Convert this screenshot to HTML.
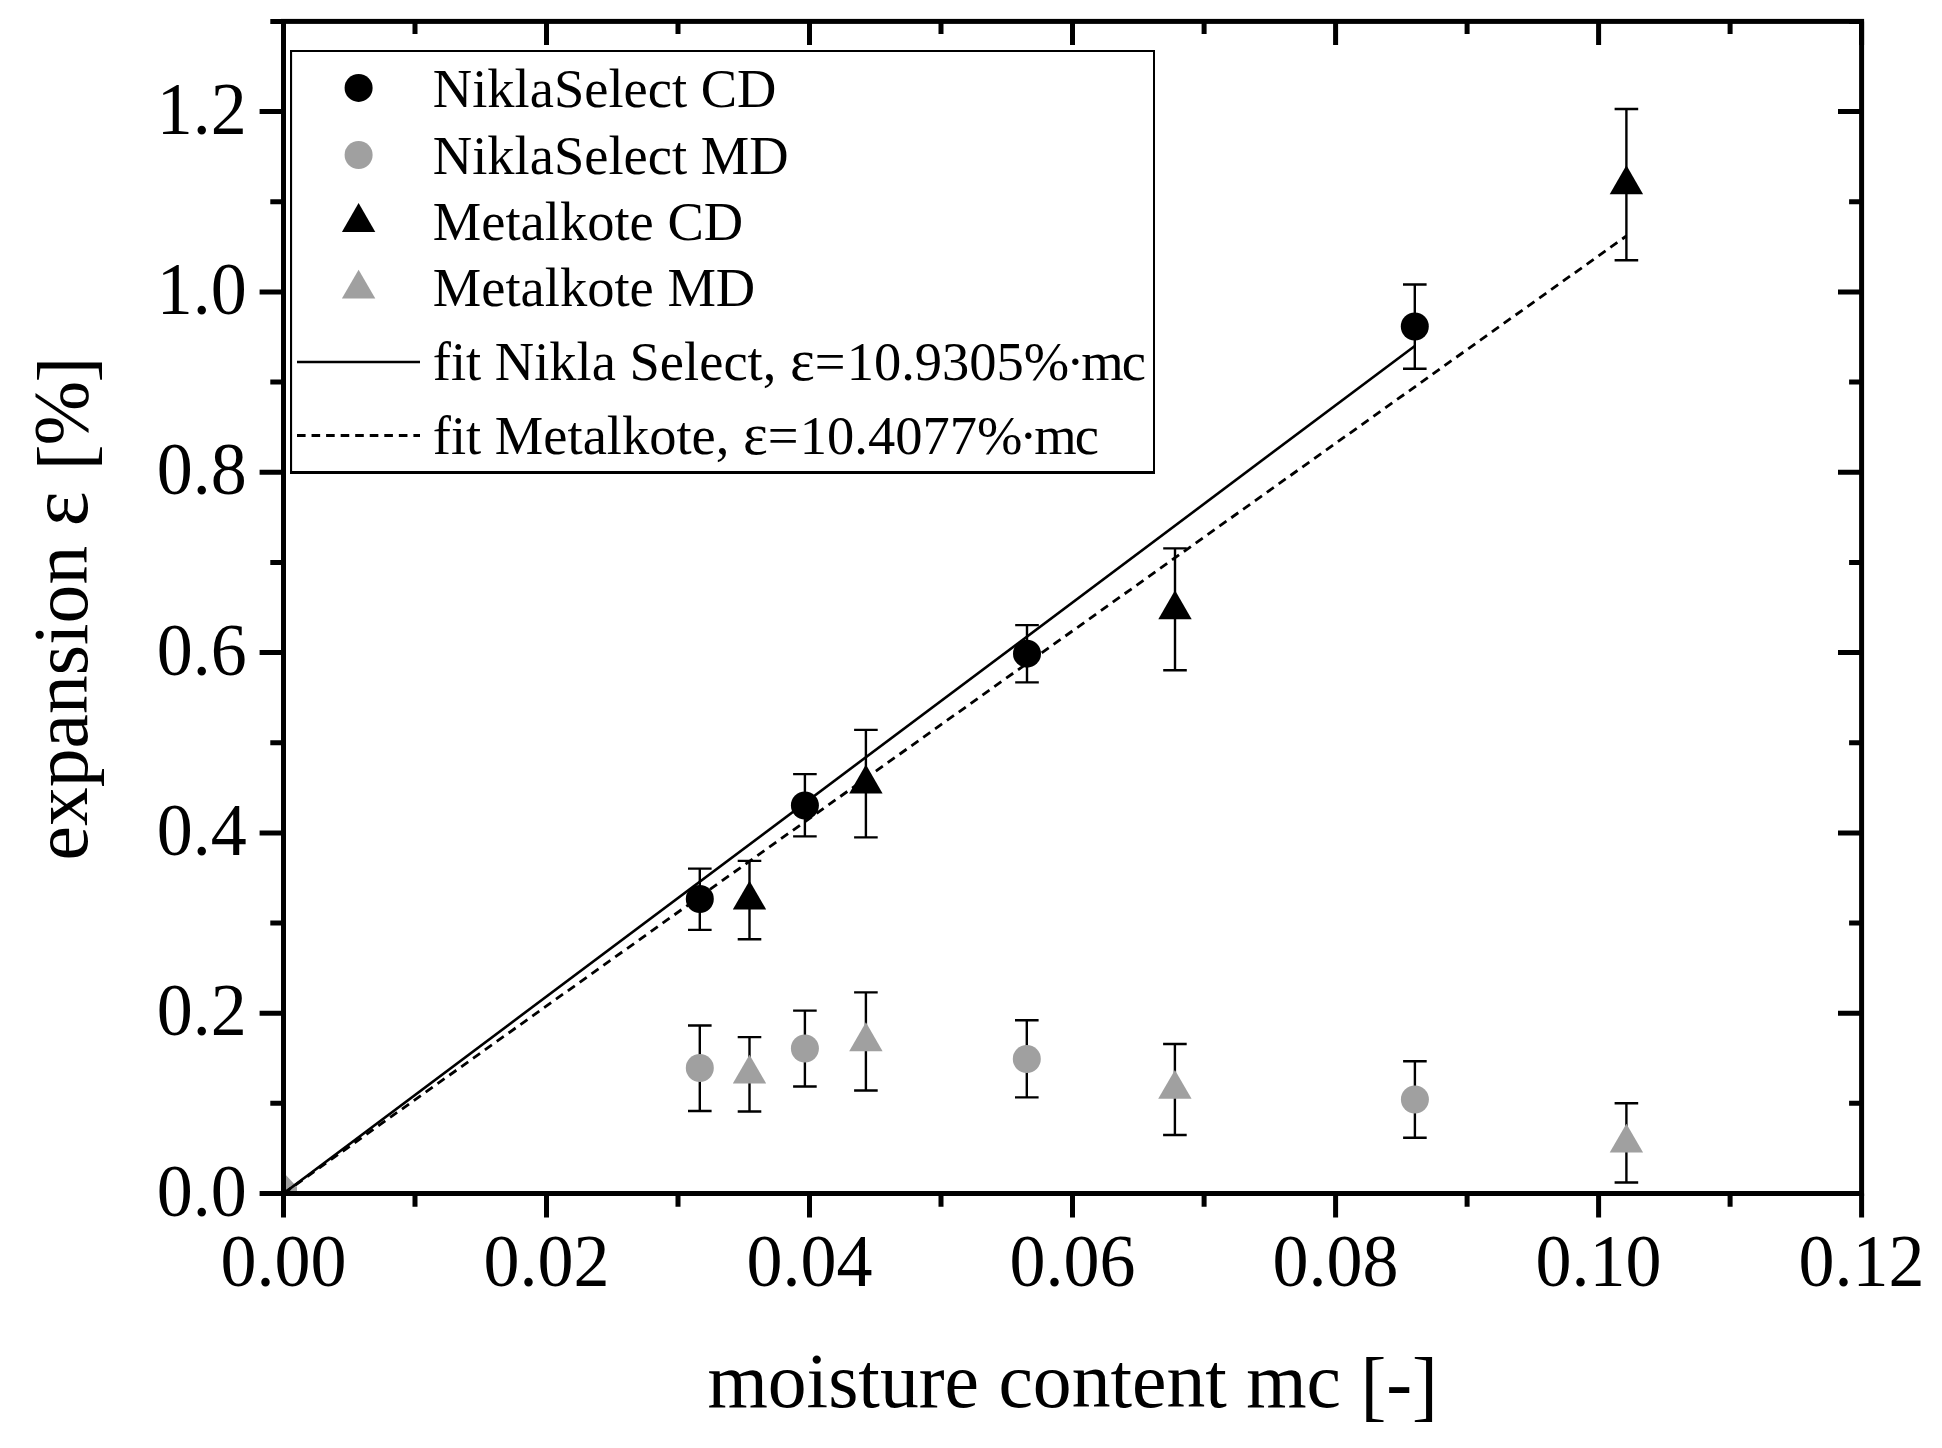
<!DOCTYPE html>
<html lang="en"><head><meta charset="utf-8"><title>expansion vs moisture content</title>
<style>html,body{margin:0;padding:0;background:#fff}svg{display:block}text{font-family:"Liberation Serif","DejaVu Serif",serif;fill:#000}.tk{font-size:72px}.lg{font-size:54.5px}.ti{font-size:77.6px}</style></head><body>
<svg width="1942" height="1448" viewBox="0 0 1942 1448">
<rect x="0" y="0" width="1942" height="1448" fill="#fff"/>
<defs><clipPath id="plot"><rect x="283.5" y="21.4" width="1578.1" height="1172.1"/></clipPath></defs>
<g clip-path="url(#plot)">
<path d="M283.5 1172.5L297 1187V1193.5H283.5Z" fill="#a0a0a0"/>
<path d="M699.8 868.6V929.9M688.0 868.6H711.6M688.0 929.9H711.6" fill="none" stroke="#000" stroke-width="2.4"/>
<circle cx="699.8" cy="899.0" r="14.0" fill="#000"/>
<path d="M804.9 774.1V836.4M793.1 774.1H816.7M793.1 836.4H816.7" fill="none" stroke="#000" stroke-width="2.4"/>
<circle cx="804.9" cy="805.5" r="14.0" fill="#000"/>
<path d="M1027.0 625.1V682.4M1015.2 625.1H1038.8M1015.2 682.4H1038.8" fill="none" stroke="#000" stroke-width="2.4"/>
<circle cx="1027.0" cy="653.7" r="14.0" fill="#000"/>
<path d="M1414.8 284.5V368.7M1403.0 284.5H1426.6M1403.0 368.7H1426.6" fill="none" stroke="#000" stroke-width="2.4"/>
<circle cx="1414.8" cy="326.5" r="14.0" fill="#000"/>
<path d="M699.8 1025.5V1111.0M688.0 1025.5H711.6M688.0 1111.0H711.6" fill="none" stroke="#000" stroke-width="2.4"/>
<circle cx="699.8" cy="1068.0" r="14.0" fill="#a0a0a0"/>
<path d="M804.9 1010.6V1086.5M793.1 1010.6H816.7M793.1 1086.5H816.7" fill="none" stroke="#000" stroke-width="2.4"/>
<circle cx="804.9" cy="1048.5" r="14.0" fill="#a0a0a0"/>
<path d="M1026.8 1020.3V1097.4M1015.0 1020.3H1038.6M1015.0 1097.4H1038.6" fill="none" stroke="#000" stroke-width="2.4"/>
<circle cx="1026.8" cy="1059.0" r="14.0" fill="#a0a0a0"/>
<path d="M1414.9 1061.3V1137.7M1403.1 1061.3H1426.7M1403.1 1137.7H1426.7" fill="none" stroke="#000" stroke-width="2.4"/>
<circle cx="1414.9" cy="1099.5" r="14.0" fill="#a0a0a0"/>
<path d="M749.5 860.9V939.2M737.7 860.9H761.3M737.7 939.2H761.3" fill="none" stroke="#000" stroke-width="2.4"/>
<path d="M749.5 880.7L766.2 909.6H732.8Z" fill="#000"/>
<path d="M865.9 729.9V837.4M854.1 729.9H877.7M854.1 837.4H877.7" fill="none" stroke="#000" stroke-width="2.4"/>
<path d="M865.9 764.5L882.6 793.4H849.2Z" fill="#000"/>
<path d="M1175.0 548.4V670.3M1163.2 548.4H1186.8M1163.2 670.3H1186.8" fill="none" stroke="#000" stroke-width="2.4"/>
<path d="M1175.0 590.3L1191.7 619.2H1158.3Z" fill="#000"/>
<path d="M1626.4 109.0V260.3M1614.6 109.0H1638.2M1614.6 260.3H1638.2" fill="none" stroke="#000" stroke-width="2.4"/>
<path d="M1626.4 165.3L1643.1 194.2H1609.7Z" fill="#000"/>
<path d="M749.5 1037.1V1111.5M737.7 1037.1H761.3M737.7 1111.5H761.3" fill="none" stroke="#000" stroke-width="2.4"/>
<path d="M749.5 1054.7L766.2 1083.6H732.8Z" fill="#a0a0a0"/>
<path d="M865.9 992.4V1090.5M854.1 992.4H877.7M854.1 1090.5H877.7" fill="none" stroke="#000" stroke-width="2.4"/>
<path d="M865.9 1022.3L882.6 1051.2H849.2Z" fill="#a0a0a0"/>
<path d="M1174.9 1044.0V1135.0M1163.1 1044.0H1186.7M1163.1 1135.0H1186.7" fill="none" stroke="#000" stroke-width="2.4"/>
<path d="M1174.9 1069.9L1191.6 1098.8H1158.2Z" fill="#a0a0a0"/>
<path d="M1626.4 1103.3V1182.5M1614.6 1103.3H1638.2M1614.6 1182.5H1638.2" fill="none" stroke="#000" stroke-width="2.4"/>
<path d="M1626.4 1123.7L1643.1 1152.6H1609.7Z" fill="#a0a0a0"/>
<line x1="283.5" y1="1193.5" x2="1414.8" y2="346.0" stroke="#000" stroke-width="2.6"/>
<line x1="283.5" y1="1193.5" x2="1626.4" y2="236.0" stroke="#000" stroke-width="2.8" stroke-dasharray="8.6 5.95"/>
</g>
<g fill="none" stroke="#000" stroke-width="5" stroke-linecap="butt">
<rect x="283.5" y="21.4" width="1578.1" height="1172.1"/>
</g>
<g fill="none" stroke="#000" stroke-width="5" stroke-linecap="butt">
<path d="M283.5 1193.5v23.9M283.5 21.4v23.6M415.0 1193.5v13.2M415.0 21.4v12.5M546.5 1193.5v23.9M546.5 21.4v23.6M678.0 1193.5v13.2M678.0 21.4v12.5M809.5 1193.5v23.9M809.5 21.4v23.6M941.0 1193.5v13.2M941.0 21.4v12.5M1072.5 1193.5v23.9M1072.5 21.4v23.6M1204.1 1193.5v13.2M1204.1 21.4v12.5M1335.6 1193.5v23.9M1335.6 21.4v23.6M1467.1 1193.5v13.2M1467.1 21.4v12.5M1598.6 1193.5v23.9M1598.6 21.4v23.6M1730.1 1193.5v13.2M1730.1 21.4v12.5M1861.6 1193.5v23.9M1861.6 21.4v23.6M283.5 1193.5h-23.9M1861.6 1193.5h-23.6M283.5 1103.3h-13.2M1861.6 1103.3h-12.5M283.5 1013.2h-23.9M1861.6 1013.2h-23.6M283.5 923.0h-13.2M1861.6 923.0h-12.5M283.5 832.9h-23.9M1861.6 832.9h-23.6M283.5 742.7h-13.2M1861.6 742.7h-12.5M283.5 652.5h-23.9M1861.6 652.5h-23.6M283.5 562.4h-13.2M1861.6 562.4h-12.5M283.5 472.2h-23.9M1861.6 472.2h-23.6M283.5 382.0h-13.2M1861.6 382.0h-12.5M283.5 291.9h-23.9M1861.6 291.9h-23.6M283.5 201.7h-13.2M1861.6 201.7h-12.5M283.5 111.6h-23.9M1861.6 111.6h-23.6M283.5 21.4h-13.2M1861.6 21.4h-12.5"/>
</g>
<text class="tk" transform="translate(283.5 1285.9) scale(1 1.04)" text-anchor="middle">0.00</text>
<text class="tk" transform="translate(546.5 1285.9) scale(1 1.04)" text-anchor="middle">0.02</text>
<text class="tk" transform="translate(809.5 1285.9) scale(1 1.04)" text-anchor="middle">0.04</text>
<text class="tk" transform="translate(1072.5 1285.9) scale(1 1.04)" text-anchor="middle">0.06</text>
<text class="tk" transform="translate(1335.6 1285.9) scale(1 1.04)" text-anchor="middle">0.08</text>
<text class="tk" transform="translate(1598.6 1285.9) scale(1 1.04)" text-anchor="middle">0.10</text>
<text class="tk" transform="translate(1861.6 1285.9) scale(1 1.04)" text-anchor="middle">0.12</text>
<text class="tk" transform="translate(246.8 1215.6) scale(1 1.04)" text-anchor="end">0.0</text>
<text class="tk" transform="translate(246.8 1035.3) scale(1 1.04)" text-anchor="end">0.2</text>
<text class="tk" transform="translate(246.8 855.0) scale(1 1.04)" text-anchor="end">0.4</text>
<text class="tk" transform="translate(246.8 674.6) scale(1 1.04)" text-anchor="end">0.6</text>
<text class="tk" transform="translate(246.8 494.3) scale(1 1.04)" text-anchor="end">0.8</text>
<text class="tk" transform="translate(246.8 314.0) scale(1 1.04)" text-anchor="end">1.0</text>
<text class="tk" transform="translate(246.8 133.7) scale(1 1.04)" text-anchor="end">1.2</text>
<text class="ti" x="1072.7" y="1407.4" text-anchor="middle">moisture content mc <tspan dy="4.5">[</tspan><tspan dy="-3">-</tspan><tspan dy="3">]</tspan></text>
<text class="ti" transform="translate(87.3 608.5) rotate(-90)" text-anchor="middle">expansion <tspan font-size="84">ε</tspan> <tspan dy="4.2" dx="1.5">[</tspan><tspan dy="-4.2" dx="-1.2">%</tspan><tspan dy="4.2" dx="-1.5">]</tspan></text>
<rect x="291" y="51" width="863" height="421.5" fill="#fff"/>
<path d="M290 49.9H1155V473.9H290ZM292.1 52V471.1H1153V52Z" fill="#000" fill-rule="evenodd"/>
<circle cx="358.6" cy="87.9" r="14.0" fill="#000"/>
<circle cx="358.6" cy="155.0" r="14.0" fill="#a0a0a0"/>
<path d="M358.6 203.1L375.3 232.0H341.9Z" fill="#000"/>
<path d="M358.6 269.7L375.3 298.6H341.9Z" fill="#a0a0a0"/>
<line x1="297" y1="362" x2="420" y2="362" stroke="#000" stroke-width="2.6"/>
<line x1="297" y1="435.5" x2="420" y2="435.5" stroke="#000" stroke-width="2.8" stroke-dasharray="8.6 5.95"/>
<text class="lg" x="432.8" y="107.0">NiklaSelect CD</text>
<text class="lg" x="432.8" y="173.5">NiklaSelect MD</text>
<text class="lg" x="432.8" y="239.7">Metalkote CD</text>
<text class="lg" x="432.8" y="306.4">Metalkote MD</text>
<text class="lg" x="432.8" y="380.3">fit Nikla Select, <tspan font-size="59">ε</tspan>=<tspan dx="1.2">1</tspan>0.9305%<tspan dx="-3">·</tspan><tspan dx="-3.2" letter-spacing="-1.8">mc</tspan></text>
<text class="lg" x="432.8" y="453.5">fit Metalkote, <tspan font-size="59">ε</tspan>=<tspan dx="1.2">1</tspan>0.4077%<tspan dx="-3">·</tspan><tspan dx="-3.2" letter-spacing="-1.8">mc</tspan></text>
</svg></body></html>
